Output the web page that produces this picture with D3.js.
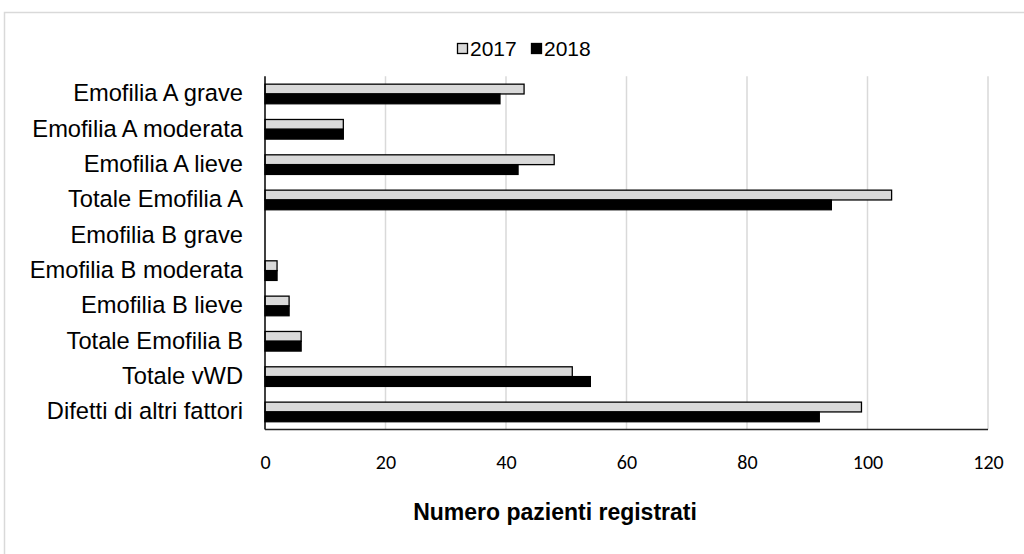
<!DOCTYPE html>
<html lang="en">
<head>
	<meta charset="utf-8">
	<title>Pazienti registrati</title>
	<script src="https://d3js.org/d3.v7.min.js"></script>
	<style type="text/css">
		body {
			margin: 0;
			background: #fff;
		}

		svg {
			display: block;
		}

		.cat-label {
			font-family: "Liberation Sans", Arial, sans-serif;
			font-size: 23.7px;
			fill: #000;
		}

		.tick text {
			font-family: Calibri, Carlito, "Open Sans", sans-serif;
			font-size: 20px;
			fill: #000;
		}

		.tick line,
		path.domain {
			display: none;
		}

		.grid line {
			stroke: #d9d9d9;
			stroke-width: 1.5;
		}

		.legend text {
			font-family: "Liberation Sans", Arial, sans-serif;
			font-size: 21px;
			fill: #000;
		}

		.axis-title {
			font-family: "Liberation Sans", Arial, sans-serif;
			font-size: 23px;
			font-weight: bold;
			fill: #000;
		}
	</style>
</head>
<body>
	<div id="vis"></div>

	<script type="text/javascript">

		/* Data */
		/* ==== */

		const categories = [
			"Emofilia A grave",
			"Emofilia A moderata",
			"Emofilia A lieve",
			"Totale Emofilia A",
			"Emofilia B grave",
			"Emofilia B moderata",
			"Emofilia B lieve",
			"Totale Emofilia B",
			"Totale vWD",
			"Difetti di altri fattori"
		];
		const seriesNames = ["2017", "2018"];
		const values2017 = [43, 13, 48, 104, 0, 2, 4, 6, 51, 99];
		const values2018 = [39, 13, 42, 94, 0, 2, 4, 6, 54, 92];
		const xTicks = [0, 20, 40, 60, 80, 100, 120];
		const axisTitle = "Numero pazienti registrati";


		function make() {

			var width = 1024, height = 554;

			// plot area, in page pixels
			var plot = { left: 265, right: 988, top: 76.3, bottom: 429.6 };

			var svg = d3.select('#vis')
				.append('svg')
				.attr('width', width)
				.attr('height', height);

			// chart frame (runs off the right edge in the original)
			svg.append('rect')
				.attr('x', 4.5)
				.attr('y', 12.5)
				.attr('width', 1100)
				.attr('height', 600)
				.attr('fill', 'none')
				.attr('stroke', '#d9d9d9')
				.attr('stroke-width', 1.5);

			/* Scales */
			/* ------ */

			var xScale = d3.scaleLinear()
				.domain([0, 120])
				.range([plot.left, plot.right]);

			var yScale = d3.scaleBand()
				.domain(categories)
				.range([plot.top, plot.bottom])
				.paddingInner(0.445)
				.paddingOuter(0.2225);

			var ySub = d3.scaleBand()
				.domain(seriesNames)
				.range([0, yScale.bandwidth()]);

			/* Grid */
			/* ---- */

			svg.append('g')
				.attr('class', 'grid')
				.selectAll('line')
				.data(xTicks.slice(1))
				.enter()
				.append('line')
				.attr('x1', function (d) { return xScale(d); })
				.attr('x2', function (d) { return xScale(d); })
				.attr('y1', plot.top)
				.attr('y2', plot.bottom);

			/* Bars */
			/* ---- */

			var rows = categories.map(function (c, i) {
				return { cat: c, vals: [values2017[i], values2018[i]] };
			});

			var fills = { "2017": "#d9d9d9", "2018": "#000" };

			var groups = svg.append('g')
				.selectAll('g')
				.data(rows)
				.enter()
				.append('g')
				.attr('transform', function (d) { return 'translate(0,' + yScale(d.cat) + ')'; });

			groups.selectAll('rect')
				.data(function (d) {
					return seriesNames.map(function (s, j) { return { s: s, v: d.vals[j] }; });
				})
				.enter()
				.filter(function (d) { return d.v > 0; })
				.append('rect')
				.attr('x', xScale(0))
				.attr('y', function (d) { return ySub(d.s); })
				.attr('width', function (d) { return xScale(d.v) - xScale(0); })
				.attr('height', ySub.bandwidth())
				.attr('fill', function (d) { return fills[d.s]; })
				.attr('stroke', '#000')
				.attr('stroke-width', 1.3);

			/* Axes */
			/* ---- */

			// left axis line
			svg.append('line')
				.attr('x1', xScale(0)).attr('x2', xScale(0))
				.attr('y1', plot.top).attr('y2', plot.bottom)
				.attr('stroke', '#000')
				.attr('stroke-width', 1.5);

			// bottom axis line
			svg.append('line')
				.attr('x1', xScale(0)).attr('x2', plot.right)
				.attr('y1', plot.bottom).attr('y2', plot.bottom)
				.attr('stroke', '#222')
				.attr('stroke-width', 1.5);

			var xAxis = d3.axisBottom(xScale)
				.tickValues(xTicks)
				.tickSize(0)
				.tickPadding(0);

			var xAxisDraw = svg.append('g')
				.attr('class', 'x axis')
				.attr('transform', 'translate(0,' + plot.bottom + ')')
				.call(xAxis);

			xAxisDraw.selectAll('text')
				.attr('y', 32)
				.attr('dy', '0.35em');

			// category labels
			svg.append('g')
				.selectAll('text')
				.data(categories)
				.enter()
				.append('text')
				.attr('class', 'cat-label')
				.attr('x', 243)
				.attr('y', function (d) { return yScale(d) + yScale.bandwidth() / 2 - 1; })
				.attr('dy', '0.35em')
				.attr('text-anchor', 'end')
				.text(function (d) { return d; });

			// axis title
			svg.append('text')
				.attr('class', 'axis-title')
				.attr('x', 555)
				.attr('y', 512)
				.attr('dy', '0.35em')
				.attr('text-anchor', 'middle')
				.text(axisTitle);

			/* Legend */
			/* ------ */

			var legend = svg.append('g').attr('class', 'legend');
			var legendX = [457, 531];

			var items = legend.selectAll('g')
				.data(seriesNames)
				.enter()
				.append('g')
				.attr('transform', function (d, i) { return 'translate(' + legendX[i] + ',43)'; });

			items.append('rect')
				.attr('x', 0.5)
				.attr('y', 0.5)
				.attr('width', 10)
				.attr('height', 10)
				.attr('fill', function (d) { return fills[d]; })
				.attr('stroke', '#000')
				.attr('stroke-width', 1.3);

			items.append('text')
				.attr('x', 13)
				.attr('y', 5.5)
				.attr('dy', '0.36em')
				.text(function (d) { return d; });

		} // make()

		make();

	</script>
</body>
</html>
